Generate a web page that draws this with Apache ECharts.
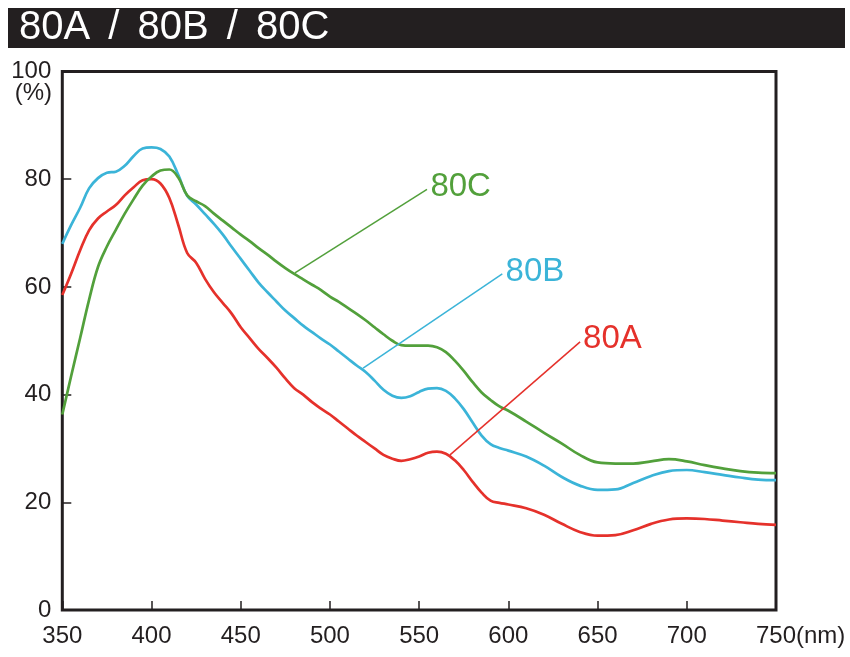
<!DOCTYPE html>
<html>
<head>
<meta charset="utf-8">
<script src="https://cdn.jsdelivr.net/npm/echarts@6/dist/echarts.min.js"></script>
<style>
html,body{margin:0;padding:0;background:#fff;}
#c{width:850px;height:657px;}
</style>
</head>
<body>
<div id="c"></div>
<script>
const titleText = '80A / 80B / 80C';
const xTicks = [350, 400, 450, 500, 550, 600, 650, 700, 750];
const yTicks = [0, 20, 40, 60, 80, 100];
const wavelengths = [350,355,360,365,370,375,380,385,390,395,400,405,410,415,420,425,430,435,440,445,450,455,460,465,470,475,480,485,490,495,500,505,510,515,520,525,530,535,540,545,550,555,560,565,570,575,580,585,590,595,600,610,620,630,640,650,660,670,680,690,700,710,720,730,740,750];
const s80A = [58.5,62.5,66.8,70.5,72.7,74.0,75.2,77.0,78.5,79.8,80.0,79.2,76.5,71.5,66.3,64.5,61.5,59.0,57.0,55.0,52.5,50.5,48.5,46.8,45.0,43.0,41.2,40.0,38.6,37.4,36.3,35.0,33.7,32.4,31.2,30.0,28.8,28.1,27.7,28.0,28.5,29.2,29.4,29.0,27.8,26.0,23.8,21.8,20.3,19.9,19.6,18.9,17.7,16.0,14.5,13.8,13.9,14.8,16.0,16.8,17.0,16.9,16.6,16.3,16.0,15.8];
const s80B = [68.0,71.5,74.7,78.3,80.2,81.2,81.4,82.5,84.3,85.7,85.9,85.6,84.2,80.8,76.9,75.3,73.5,71.7,69.7,67.4,65.2,63.0,60.8,59.0,57.3,55.6,54.2,52.8,51.6,50.4,49.3,48.0,46.7,45.4,44.2,42.6,40.9,39.8,39.4,39.7,40.5,41.1,41.2,40.7,39.3,37.3,34.8,32.4,30.8,30.1,29.6,28.5,26.8,24.7,23.1,22.3,22.4,23.6,24.9,25.8,26.0,25.6,25.1,24.6,24.2,24.1];
const s80C = [36.3,43.5,50.5,57.6,63.7,67.5,70.6,73.6,76.3,78.8,80.5,81.6,81.8,80.3,77.0,75.9,75.0,73.6,72.3,71.0,69.7,68.5,67.2,66.0,64.7,63.5,62.4,61.4,60.4,59.4,58.2,57.2,56.1,55.0,53.8,52.5,51.2,50.0,49.2,49.1,49.1,49.1,48.8,47.9,46.3,44.4,42.3,40.4,39.0,37.8,37.0,35.0,32.9,30.9,28.8,27.4,27.2,27.2,27.6,28.0,27.6,26.9,26.3,25.8,25.5,25.4];
const seriesNames = ['80A', '80B', '80C'];
const seriesValues = [s80A, s80B, s80C];
const seriesColors = ['#e5312b', '#3bb4d8', '#52a03b'];
// leader line endpoints in data units [nm, %]
const leaderStart = [[567.3, 28.8], [518.6, 44.9], [480.4, 62.6]];
const leaderEnd = [[640.2, 49.8], [596.6, 62.4], [554.4, 78.1]];

const chart = echarts.init(document.getElementById('c'));
const FONT = '"Liberation Sans", Arial, sans-serif';
const dark = '#231f20';

const series = seriesNames.map((name, i) => ({
  name: name,
  type: 'line',
  data: wavelengths.map((w, j) => [w, seriesValues[i][j]]),
  smooth: 0.4,
  showSymbol: false,
  symbol: 'none',
  lineStyle: { color: seriesColors[i], width: 2.7 },
  z: 3,
  markLine: {
    silent: true,
    symbol: ['none', 'none'],
    animation: false,
    lineStyle: { color: seriesColors[i], width: 1.5, type: 'solid' },
    label: {
      show: true,
      position: 'end',
      distance: 4,
      align: 'left',
      verticalAlign: 'middle',
      formatter: name,
      color: seriesColors[i],
      fontFamily: FONT,
      fontSize: 33
    },
    data: [[{ coord: leaderStart[i] }, { coord: leaderEnd[i] }]]
  }
}));

chart.setOption({
  animation: false,
  backgroundColor: '#fff',
  title: {
    text: '80A {s|/} 80B {s|/} 80C',
    left: 19,
    top: 8,
    padding: 0,
    textStyle: {
      color: '#fff',
      fontFamily: FONT,
      fontSize: 40,
      fontWeight: 'normal',
      rich: { s: { color: '#fff', fontFamily: FONT, fontSize: 40, padding: [0, 7] } }
    }
  },
  graphic: [
    { type: 'rect', shape: { x: 8, y: 8, width: 837, height: 40 }, style: { fill: dark }, z: -10 },
    { type: 'text', style: { text: '(%)', x: 52, y: 93, fill: dark, font: '24px "Liberation Sans", Arial, sans-serif', textAlign: 'right', textVerticalAlign: 'middle' } },
    { type: 'text', style: { text: '(nm)', x: 796, y: 636, fill: dark, font: '24px "Liberation Sans", Arial, sans-serif', textAlign: 'left', textVerticalAlign: 'middle' } }
  ],
  grid: {
    left: 62.3, right: 74, top: 71.5, bottom: 47,
    show: true, borderColor: dark, borderWidth: 3, backgroundColor: 'transparent'
  },
  xAxis: {
    type: 'value',
    min: xTicks[0],
    max: xTicks[xTicks.length - 1],
    interval: 50,
    axisLine: { show: false },
    axisTick: { show: true, inside: true, length: 9, lineStyle: { color: dark, width: 1.5 } },
    splitLine: { show: false },
    axisLabel: { color: dark, fontFamily: FONT, fontSize: 24, margin: 14, showMinLabel: true, showMaxLabel: true }
  },
  yAxis: {
    type: 'value',
    min: yTicks[0],
    max: yTicks[yTicks.length - 1],
    interval: 20,
    axisLine: { show: false },
    axisTick: { show: true, inside: true, length: 9, lineStyle: { color: dark, width: 1.5 } },
    splitLine: { show: false },
    axisLabel: { color: dark, fontFamily: FONT, fontSize: 24, margin: 11 }
  },
  series: series
});
</script>
</body>
</html>
